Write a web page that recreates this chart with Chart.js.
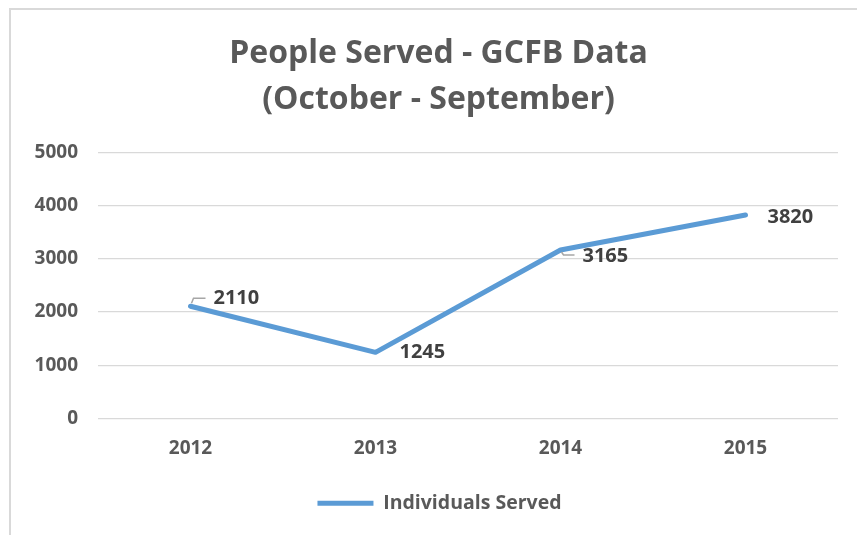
<!DOCTYPE html>
<html>
<head>
<meta charset="utf-8">
<script src="https://cdn.jsdelivr.net/npm/chart.js@4.4.1/dist/chart.umd.min.js"></script>
<style>
  html, body { margin: 0; padding: 0; background: #fff; }
  #frame {
    position: absolute; left: 9px; top: 8px;
    width: 848px; height: 527px;
    border-left: 2px solid #d9d9d9; border-top: 2px solid #d9d9d9;
  }
  #chart { display: block; }
</style>
</head>
<body>
<div id="frame"><canvas id="chart" width="846" height="525"></canvas></div>
<script>
// chart data
const years = ['2012', '2013', '2014', '2015'];
const served = [2110, 1245, 3165, 3820];
const yTicks = [0, 1000, 2000, 3000, 4000, 5000];
const seriesName = 'Individuals Served';
const titleLines = ['People Served - GCFB Data', '(October - September)'];

const FONT = '"Open Sans", sans-serif';
const BLUE = '#5b9bd5';

// where each value label sits next to its point, and its small leader line
const labelPlacement = [
  { dx: 23, dy: -8, leader: [[1, -3], [3, -8], [15, -8]] },
  { dx: 24, dy: 0, leader: null },
  { dx: 22, dy: 6, leader: [[1, 2], [3, 5], [14, 5]] },
  { dx: 22, dy: 2, leader: null }
];

const valueLabels = {
  id: 'valueLabels',
  afterDatasetsDraw(chart) {
    const ctx = chart.ctx;
    const meta = chart.getDatasetMeta(0);
    ctx.save();
    meta.data.forEach((pt, i) => {
      const p = labelPlacement[i];
      if (p.leader) {
        ctx.strokeStyle = '#a6a6a6';
        ctx.lineWidth = 1.5;
        ctx.beginPath();
        p.leader.forEach(([lx, ly], k) => {
          if (k === 0) ctx.moveTo(pt.x + lx, pt.y + ly);
          else ctx.lineTo(pt.x + lx, pt.y + ly);
        });
        ctx.stroke();
      }
      ctx.fillStyle = '#404040';
      ctx.font = 'bold 20px ' + FONT;
      ctx.textAlign = 'left';
      ctx.textBaseline = 'middle';
      ctx.fillText(String(served[i]), pt.x + p.dx, pt.y + p.dy);
    });
    ctx.restore();
  }
};

// nudge title and legend a little right, as in the picture
const blockShift = {
  id: 'blockShift',
  afterLayout(chart) {
    chart.legend.left += 30;
    chart.titleBlock.left += 14;
    chart.titleBlock.right += 14;
  }
};

const chart = new Chart(document.getElementById('chart'), {
  type: 'line',
  data: {
    labels: years,
    datasets: [{
      label: seriesName,
      data: served,
      borderColor: BLUE,
      backgroundColor: BLUE,
      borderWidth: 5,
      borderCapStyle: 'round',
      borderJoinStyle: 'round',
      pointRadius: 0,
      pointStyle: 'line',
      tension: 0
    }]
  },
  options: {
    responsive: false,
    animation: false,
    layout: { padding: { left: 0, right: 19, top: 0, bottom: 12 } },
    plugins: {
      title: {
        display: true,
        text: titleLines,
        color: '#595959',
        font: { family: FONT, size: 32, weight: 'bold', lineHeight: 1.44 },
        padding: { top: 21, bottom: 29 }
      },
      legend: {
        position: 'bottom',
        labels: {
          color: '#595959',
          font: { family: FONT, size: 19.5, weight: 'bold' },
          usePointStyle: true,
          pointStyleWidth: 56,
          padding: 16
        }
      },
      tooltip: { enabled: false }
    },
    scales: {
      x: {
        offset: true,
        grid: { display: false, drawTicks: false },
        border: { display: false },
        ticks: {
          color: '#595959',
          font: { family: FONT, size: 19, weight: 'bold' },
          padding: 18
        }
      },
      y: {
        min: 0,
        max: 5000,
        afterBuildTicks(axis) { axis.ticks = yTicks.map(v => ({ value: v })); },
        afterFit(axis) { axis.width = 87; },
        grid: { color: '#d9d9d9', lineWidth: 1.2, drawTicks: false },
        border: { display: false },
        ticks: {
          color: '#595959',
          font: { family: FONT, size: 19, weight: 'bold' },
          padding: 20,
          callback: v => String(v)
        }
      }
    }
  },
  plugins: [valueLabels, blockShift]
});
</script>
</body>
</html>
